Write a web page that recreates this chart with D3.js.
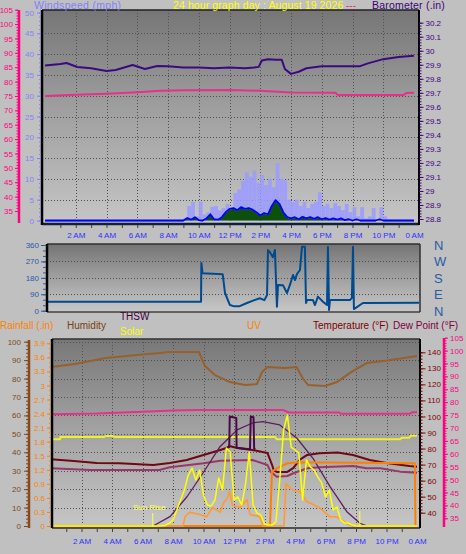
<!DOCTYPE html>
<html><head><meta charset="utf-8">
<script src="https://cdn.jsdelivr.net/npm/d3@7"></script>
<style>
body{margin:0;background:#c0c0c0;}
svg{display:block;font-family:"Liberation Sans",Arial,sans-serif;}
</style></head><body><svg id="c" width="466" height="554"></svg>
<script>
// ---------------- DATA ----------------
const hourTicks = [2,4,6,8,10,12,14,16,18,20,22,24];
const hourLabels = ["2 AM","4 AM","6 AM","8 AM","10 AM","12 PM","2 PM","4 PM","6 PM","8 PM","10 PM","0 AM"];

const windTicks = [0,5,10,15,20,25,30,35,40,45,50];
const pinkTicks = [35,40,45,50,55,60,65,70,75,80,85,90,95,100,105];
const baroTicks = [28.8,28.9,29,29.1,29.2,29.3,29.4,29.5,29.6,29.7,29.8,29.9,30,30.1,30.2];

const baroHours  = [0,1,1.4,2.1,3,4,4.6,5.7,6.5,7.3,8,9,10,11,12,13,13.6,13.9,14.1,14.5,15.0,15.4,15.6,16.0,16.5,17,18,19,20,20.5,21,22,23,24];
const baroValues = [29.895,29.905,29.913,29.884,29.875,29.855,29.863,29.898,29.870,29.891,29.89,29.88,29.88,29.875,29.88,29.875,29.88,29.885,29.93,29.94,29.935,29.935,29.87,29.835,29.85,29.875,29.89,29.89,29.89,29.89,29.91,29.94,29.955,29.965];

const topPinkHours  = [0,2,4,6,7.5,9,12,14,16,18.9,19.05,23.3,23.5,24];
const topPinkValues = [75.0,75.4,75.8,76.3,76.8,77.0,77.1,76.8,76.2,76.1,75.3,75.3,76.0,76.1];

// wind, 15-minute readings starting 9:00
const windStart = 9, windStep = 0.25;
const windHigh = [0.5,3.5,4.5,1.0,4.5,1.5,2.0,3.3,3.5,2.5,3.0,4.0,3.0,6.6,7.5,9.5,11.6,10.5,12.0,9.0,11.0,8.5,10.0,8.0,13.8,10.0,9.7,5.0,4.5,5.0,3.5,4.5,3.0,4.0,4.5,6.8,3.5,4.0,3.0,4.2,3.5,2.5,4.0,2.0,3.2,1.0,3.2,0.5,1.0,3.0,0.3,3.2,1.0,0.3,0.2,0.2,0.2,0.2,0.2,0.2];
const windAvg  = [0,0.6,0.2,0.8,0.1,0,0.5,1.5,0.3,0.2,0.8,2.0,2.8,3.0,2.5,3.2,2.8,3.0,2.6,2.0,1.2,1.8,1.5,3.5,4.9,4.0,2.0,0.8,0.5,0.8,0.3,0.9,0.5,0.8,0.4,0.8,0.3,0.6,0.2,0.5,0.2,0.5,0.1,0.3,0,0.3,0,0,0,0,0,0.3,0,0,0,0,0,0,0,0];

const dirTicks = [0,90,180,270,360];
const dirCompass = ["N","E","S","W","N"];
const dirHours  = [0,9.9,9.92,10.0,11.3,11.45,11.77,12.0,12.4,12.87,13.26,13.7,14.0,14.17,14.23,14.36,14.55,14.68,14.81,14.88,15.2,15.46,15.65,15.85,15.98,16.1,16.3,16.43,16.62,16.69,16.75,17.14,17.27,17.46,17.79,18.05,18.11,18.18,18.24,19.53,19.66,19.73,19.79,20.37,24];
const dirValues = [49,49,262,205,200,97,31,25,25,42,55,68,58,86,332,320,293,333,22,141,140,97,141,196,168,200,223,350,350,42,58,58,31,77,49,31,349,4,58,58,70,350,9,42,44];

const humTicks  = [0,10,20,30,40,50,60,70,80,90,100];
const rainTicks = [0,0.3,0.6,0.9,1.2,1.5,1.8,2.1,2.4,2.7,3,3.3,3.6,3.9];
const tempTicks = [40,50,60,70,80,90,100,110,120,130,140];
const dewTicks  = [35,40,45,50,55,60,65,70,75,80,85,90,95,100,105];

const humHours  = [0,1.57,3.6,5.64,7.15,7.67,9.7,10.1,10.75,11.74,12.72,13.5,13.84,14.2,15.3,16.1,16.5,16.85,17.97,18.75,19.7,20.7,21.8,22.7,24];
const humValues = [86.3,87.9,91.2,92.8,93.9,94.4,94.4,86.8,81.9,78.1,76.5,77.0,83.6,86.3,85.7,86.3,80.3,76.5,76.0,78.1,83.6,88.4,89.5,90.6,92.2];

const botPinkHours  = [0,3,6,8,9.5,15.2,15.6,18.9,19.0,23.5,23.7,24];
const botPinkValues = [75.3,75.6,76.3,76.8,77.0,77.0,76.0,76.0,75.5,75.5,76.1,76.1];

const flatHours  = [0,0.6,0.62,3.5,3.6,4.0,4.2,14.7,14.8,22.9,23.0,23.5,23.6,24];
const flatValues = [85.8,85.8,87.2,87.2,87.8,87.8,87.2,87.2,85.8,85.8,86.8,86.8,88.0,88.0];

const tempHours  = [0,1.5,3,4.5,6.7,7.8,8.9,10,11.1,11.5,11.7,12.2,13.2,14.2,14.5,14.6,14.8,15.5,15.9,16.3,16.8,17.6,18.8,19.1,19.8,20.9,22.0,23.5,24];
const tempValues = [73.3,72.2,71.0,70.8,69.7,71.0,72.9,76.0,79.1,80.3,81.6,80.3,79.1,77.2,69.7,66.6,65.4,65.4,67.9,72.9,76.0,77.0,77.5,77.0,76.0,72.9,71.0,69.1,68.7];

const dewHours  = [0,2.6,4.5,7.1,7.8,10,11.1,13.2,14.2,14.4,14.8,15.5,15.9,16.8,17.6,18.5,19.8,20.7,21.6,22.9,24];
const dewValues = [67.7,66.6,66.6,66.6,68.3,70.8,72.4,72.9,69.7,65.6,62.4,62.9,64.6,67.7,68.3,68.7,69.1,67.7,67.7,65.6,64.9];

const thswHours  = [11.6,11.69,11.72,12.15,12.17,12.2,13.0,13.05,13.1,13.28,13.32,13.4];
const thswValues = [80.5,81,100,99,81,80.5,79.5,80,100,99.5,80,79.5];

const domeHours  = [6.69,7.8,8.92,9.97,11.08,12.2,13.25,13.9,15.0,16.13,17.18,18.3,19.4,20.26,20.72];
const domeValues = [0,51,159,288,431,522,561,567,549,477,368,214,78,15,0];

const solarHours  = [0,6.5,7,7.5,7.75,8,8.25,8.5,8.75,9,9.25,9.5,9.75,10,10.25,10.5,10.75,11,11.25,11.5,11.75,12,12.25,12.5,12.75,13,13.25,13.5,13.75,14,14.25,14.5,14.75,15,15.25,15.5,15.75,16,16.25,16.5,16.75,17,17.25,17.5,17.75,18,18.25,18.5,18.75,19,19.25,19.5,19.75,20,24];
const solarValues = [0,0,0,3,15,33,87,141,196,277,315,250,304,168,114,109,141,261,196,424,402,141,158,114,223,402,114,71,60,11,5,5,22,250,522,603,429,413,397,141,359,321,304,266,234,158,196,87,103,33,16,16,5,0,0];

const uvHours  = [0,8.66,8.79,9.1,9.77,10.2,10.6,11.1,11.3,11.6,11.7,11.9,12.4,12.85,13.05,13.7,13.9,15.28,15.4,15.87,16.3,16.8,17.6,18.3,18.75,19.4,19.8,24];
const uvValues = [0,0,0.8,1.2,1.0,0.8,1.6,1.2,2.0,2.5,3.0,1.8,1.6,2.3,1.0,0.8,0,0,3.7,3.1,3.0,2.1,1.6,0.8,0.8,0.2,0,0];

const rainHours  = [0,14.36,14.49,14.8,15.5,16.3,23.86,23.9,24];
const rainValues = [0,0,1.16,1.23,1.34,1.36,1.34,0,0];

const sunRiseHour = 6.67, sunSetHour = 20.25;

// ---------------- DRAW ----------------
const FONT = '"Liberation Sans", Arial, sans-serif';
const svg = d3.select("#c");
const defs = svg.append("defs");
function grad(id, stops){
  const g = defs.append("linearGradient").attr("id",id).attr("x1",0).attr("y1",0).attr("x2",0).attr("y2",1);
  stops.forEach(s=>g.append("stop").attr("offset",s[0]).attr("stop-color",s[1]));
}
grad("gTop",[[0,"#767676"],[0.45,"#9e9e9e"],[1,"#c6c6c6"]]);
grad("gMid",[[0,"#747474"],[0.4,"#989898"],[1,"#c8c8c8"]]);
grad("gBot",[[0,"#787878"],[0.45,"#a0a0a0"],[1,"#c6c6c6"]]);

const pts = (hs, vs) => hs.map((h,i)=>[h, vs[i]]);
function drawLine(g, data, xs, ys, color, w){
  g.append("path").datum(data)
   .attr("d", d3.line().x(d=>xs(d[0])).y(d=>ys(d[1])))
   .attr("fill","none").attr("stroke",color).attr("stroke-width",w)
   .attr("stroke-linejoin","round");
}
function styleAxis(g, color, fs){
  g.select(".domain").remove();
  g.selectAll("line").attr("stroke",color);
  g.selectAll("text").attr("fill",color).style("font-size",fs+"px").style("font-family",FONT);
}
function vAxis(x, scale, left, ticks, fmt, color, size, pad, minorTicks, minorSize){
  if(minorTicks){
    const gm = svg.append("g").attr("transform",`translate(${x},0)`)
      .call((left?d3.axisLeft(scale):d3.axisRight(scale)).tickValues(minorTicks).tickSize(minorSize).tickFormat(""));
    styleAxis(gm,color,8);
  }
  const g = svg.append("g").attr("transform",`translate(${x},0)`)
    .call((left?d3.axisLeft(scale):d3.axisRight(scale)).tickValues(ticks).tickSize(size).tickPadding(pad).tickFormat(fmt));
  styleAxis(g,color,8);
  return g;
}
function hGrid(scale, vals, x0, x1){
  svg.append("g").selectAll("line").data(vals).join("line")
    .attr("x1",x0).attr("x2",x1).attr("y1",d=>Math.round(scale(d))+0.5).attr("y2",d=>Math.round(scale(d))+0.5)
    .attr("stroke","#505050").attr("stroke-width",1).attr("stroke-dasharray","1,2");
}
function vGrid(scale, vals, y0, y1){
  svg.append("g").selectAll("line").data(vals).join("line")
    .attr("y1",y0).attr("y2",y1).attr("x1",d=>Math.round(scale(d))+0.5).attr("x2",d=>Math.round(scale(d))+0.5)
    .attr("stroke","#505050").attr("stroke-width",1).attr("stroke-dasharray","1,2");
}
function xLabels(scale, y){
  const g = svg.append("g").attr("transform",`translate(0,${y})`)
    .call(d3.axisBottom(scale).tickValues(hourTicks).tickSize(0).tickPadding(0).tickFormat((d,i)=>hourLabels[i]));
  styleAxis(g,"#3030ff",8);
}
function hourMarks(scale, y){
  const g = svg.append("g").attr("transform",`translate(0,${y})`)
    .call(d3.axisBottom(scale).tickValues(d3.range(1,24)).tickSize(3).tickFormat(""));
  styleAxis(g,"#404040",8);
}
const minorRange = (a,b,s)=>d3.range(a,b+s/2,s);

// ===== TOP PANEL =====
const T = {x0:42,x1:419,y0:10,y1:224};
const xT = d3.scaleLinear([0,24],[45,414]);
const yWind = d3.scaleLinear([0,50],[220.5,12.5]);
const yPinkT = d3.scaleLinear([35,105],[211,9.7]);
const yBaro = d3.scaleLinear([28.8,30.2],[219,22.7]);

svg.append("rect").attr("x",T.x0).attr("y",T.y0).attr("width",T.x1-T.x0).attr("height",T.y1-T.y0).attr("fill","url(#gTop)");
hGrid(yWind, windTicks.slice(1,-1), T.x0, T.x1);
vGrid(xT, hourTicks.slice(0,-1), T.y0, T.y1);

// wind high bars
const gW = svg.append("g");
gW.selectAll("rect").data(windHigh).join("rect")
  .attr("x",(d,i)=>xT(windStart+i*windStep))
  .attr("width",(d,i)=>xT(windStart+(i+1)*windStep)-xT(windStart+i*windStep))
  .attr("y",d=>yWind(d)).attr("height",d=>yWind(0)-yWind(d))
  .attr("fill","#9c9cff").attr("opacity",0.9);
const avgData = [[0,0]].concat(windAvg.map((v,i)=>[windStart+i*windStep,v])).concat([[24,0]]);
svg.append("path").datum(avgData)
  .attr("d",d3.area().x(d=>xT(d[0])).y0(yWind(0)).y1(d=>yWind(d[1])*1+0.8))
  .attr("fill","#0d4f0d");
drawLine(svg, avgData, xT, yWind, "#0000ff", 1.8);

drawLine(svg, pts(topPinkHours, topPinkValues), xT, yPinkT, "#e8308a", 2);
drawLine(svg, pts(baroHours, baroValues), xT, yBaro, "#3c0a80", 2);

// frame
svg.append("line").attr("x1",T.x0).attr("x2",T.x1).attr("y1",T.y0).attr("y2",T.y0).attr("stroke","#202020").attr("stroke-width",1.5);
svg.append("line").attr("x1",T.x0).attr("x2",T.x1).attr("y1",T.y1).attr("y2",T.y1).attr("stroke","#102038").attr("stroke-width",2.5);
svg.append("line").attr("x1",T.x0).attr("x2",T.x0).attr("y1",T.y0).attr("y2",T.y1+1).attr("stroke","#000").attr("stroke-width",2.5);
svg.append("line").attr("x1",T.x1).attr("x2",T.x1).attr("y1",T.y0).attr("y2",T.y1+1).attr("stroke","#000").attr("stroke-width",2);
hourMarks(xT, T.y1+1);
xLabels(xT, 232);

// axes top
svg.append("line").attr("x1",19).attr("x2",19).attr("y1",10).attr("y2",223).attr("stroke","#ff0080").attr("stroke-width",2.5);
vAxis(18, yPinkT, true, pinkTicks, d=>d, "#ff0080", 3, 2, minorRange(35,105,1), 1.5);
vAxis(41, yWind, true, windTicks, d=>d, "#8080ff", 4, 3, minorRange(0,50,1), 2);
vAxis(419.5, yBaro, false, baroTicks, d=>String(+d.toFixed(1)), "#400080", 4, 2, minorRange(28.8,30.2,0.02), 2);

// titles top
svg.append("text").attr("x",34).attr("y",9).attr("fill","#8080ff").style("font-size","10.5px").style("letter-spacing","0.3px").text("Windspeed (mph)");
svg.append("text").attr("x",173).attr("y",9).attr("fill","#ffff00").style("font-size","10.5px").style("letter-spacing","0.1px").text("24 hour graph day : August 19 2026");
svg.append("text").attr("x",346).attr("y",9).attr("fill","#ff1a8c").style("font-size","10px").text("---");
svg.append("text").attr("x",372).attr("y",9).attr("fill","#400080").style("font-size","10.5px").style("letter-spacing","0.2px").text("Barometer (.in)");

// ===== MIDDLE PANEL =====
const M = {x0:47,x1:420,y0:244,y1:312};
const xM = d3.scaleLinear([0,24],[48,419]);
const yDir = d3.scaleLinear([0,360],[310.7,245]);
svg.append("rect").attr("x",M.x0).attr("y",M.y0).attr("width",M.x1-M.x0).attr("height",M.y1-M.y0).attr("fill","url(#gMid)");
hGrid(yDir,[90,180,270],M.x0,M.x1);
drawLine(svg, pts(dirHours, dirValues), xM, yDir, "#004a90", 2);
svg.append("line").attr("x1",M.x0).attr("x2",M.x1).attr("y1",M.y0).attr("y2",M.y0).attr("stroke","#303030").attr("stroke-width",1.5);
svg.append("line").attr("x1",M.x0).attr("x2",M.x1).attr("y1",M.y1).attr("y2",M.y1).attr("stroke","#404040").attr("stroke-width",1.5);
svg.append("line").attr("x1",M.x0).attr("x2",M.x0).attr("y1",M.y0).attr("y2",M.y1).attr("stroke","#000").attr("stroke-width",2.5);
svg.append("line").attr("x1",M.x1).attr("x2",M.x1).attr("y1",M.y0).attr("y2",M.y1).attr("stroke","#303030").attr("stroke-width",1.5);
vAxis(46, yDir, true, dirTicks, d=>d, "#2a5aa8", 5, 2, minorRange(0,360,30), 3);
svg.append("g").selectAll("text").data(dirTicks).join("text")
  .attr("x",434).attr("y",d=>yDir(d)+5).attr("fill","#2a5aa8").style("font-size","13px")
  .text((d,i)=>dirCompass[i]);

// ===== BOTTOM PANEL =====
const B = {x0:52,x1:420,y0:339,y1:528};
const xB = d3.scaleLinear([0,24],[51,417]);
const yHum = d3.scaleLinear([0,100],[526,341.7]);
const yRain = d3.scaleLinear([0,3.9],[526,343.3]);
const yTemp = d3.scaleLinear([40,140],[512.7,352.3]);
const yDew = d3.scaleLinear([35,105],[518.3,337.7]);
const ySolar = d3.scaleLinear([0,1000],[526,342]);
const yUV = d3.scaleLinear([0,16],[526,341.7]);

svg.append("rect").attr("x",B.x0).attr("y",B.y0).attr("width",B.x1-B.x0).attr("height",B.y1-B.y0).attr("fill","url(#gBot)");
hGrid(yHum, [10,20,30,40,50,60,70,80,90,100], B.x0, B.x1);
vGrid(xB, hourTicks.slice(0,-1), B.y0, B.y1);

drawLine(svg, pts(humHours, humValues), xB, yHum, "#98602a", 2);
drawLine(svg, pts(botPinkHours, botPinkValues), xB, yDew, "#e8308a", 2);
drawLine(svg, pts(flatHours, flatValues), xB, yTemp, "#f0f028", 2);
drawLine(svg, pts(dewHours, dewValues), xB, yTemp, "#983868", 2);
drawLine(svg, pts(tempHours, tempValues), xB, yTemp, "#700814", 2);
drawLine(svg, pts(domeHours, domeValues), xB, ySolar, "#5e1e5e", 1.3);
drawLine(svg, pts(thswHours, thswValues), xB, yTemp, "#4a0848", 2);
drawLine(svg, pts(rainHours, rainValues), xB, yRain, "#ff8000", 2);
drawLine(svg, pts(uvHours, uvValues), xB, yUV, "#ff9a30", 1.6);
drawLine(svg, pts(solarHours, solarValues), xB, ySolar, "#ffff00", 1.5);

// sun rise / set markers
[sunRiseHour, sunSetHour].forEach((h,i)=>{
  svg.append("line").attr("x1",xB(h)).attr("x2",xB(h)).attr("y1",i?511:513).attr("y2",527).attr("stroke","#ffff40").attr("stroke-width",1);
});
svg.append("text").attr("x",133).attr("y",510).attr("fill","#ffff50").style("font-size","8px").text("Sun Rise");

svg.append("line").attr("x1",B.x0).attr("x2",B.x1).attr("y1",B.y0).attr("y2",B.y0).attr("stroke","#303030").attr("stroke-width",1.5);
svg.append("line").attr("x1",B.x0).attr("x2",B.x1).attr("y1",B.y1).attr("y2",B.y1).attr("stroke","#505050").attr("stroke-width",2);
svg.append("line").attr("x1",B.x0).attr("x2",B.x0).attr("y1",B.y0).attr("y2",B.y1).attr("stroke","#000").attr("stroke-width",2.5);
svg.append("line").attr("x1",B.x1).attr("x2",B.x1).attr("y1",B.y0).attr("y2",B.y1).attr("stroke","#000").attr("stroke-width",2);
hourMarks(xB, B.y1+1);
xLabels(xB, 538);

svg.append("line").attr("x1",29).attr("x2",29).attr("y1",340).attr("y2",528).attr("stroke","#8b4a1a").attr("stroke-width",2.5);
vAxis(28, yHum, true, humTicks, d=>d, "#7a4a20", 4, 3, minorRange(0,100,2), 2);
vAxis(51, yRain, true, rainTicks, d=>String(+d.toFixed(1)), "#ff8000", 4, 2, minorRange(0,3.9,0.1), 2);
vAxis(420.5, yTemp, false, tempTicks, d=>d, "#800000", 5, 2, minorRange(40,140,2), 2);
svg.append("line").attr("x1",444).attr("x2",444).attr("y1",338).attr("y2",527).attr("stroke","#ff0080").attr("stroke-width",2.5);
vAxis(445, yDew, false, dewTicks, d=>d, "#ff0080", 3, 2, minorRange(35,105,1), 1.5);

// legend texts bottom
const lg = [
  [0,329,"Rainfall (.in)","#ff8000"],
  [67,329,"Humidity","#7a4010"],
  [120,320,"THSW","#400040"],
  [120,335,"Solar","#ffff00"],
  [247,329,"UV","#ff8000"],
  [313,329,"Temperature (°F)","#800000"],
  [393,329,"Dew Point (°F)","#800040"]
];
svg.append("g").selectAll("text").data(lg).join("text")
  .attr("x",d=>d[0]).attr("y",d=>d[1]).attr("fill",d=>d[3])
  .style("font-size","10px").text(d=>d[2]);
</script></body></html>
